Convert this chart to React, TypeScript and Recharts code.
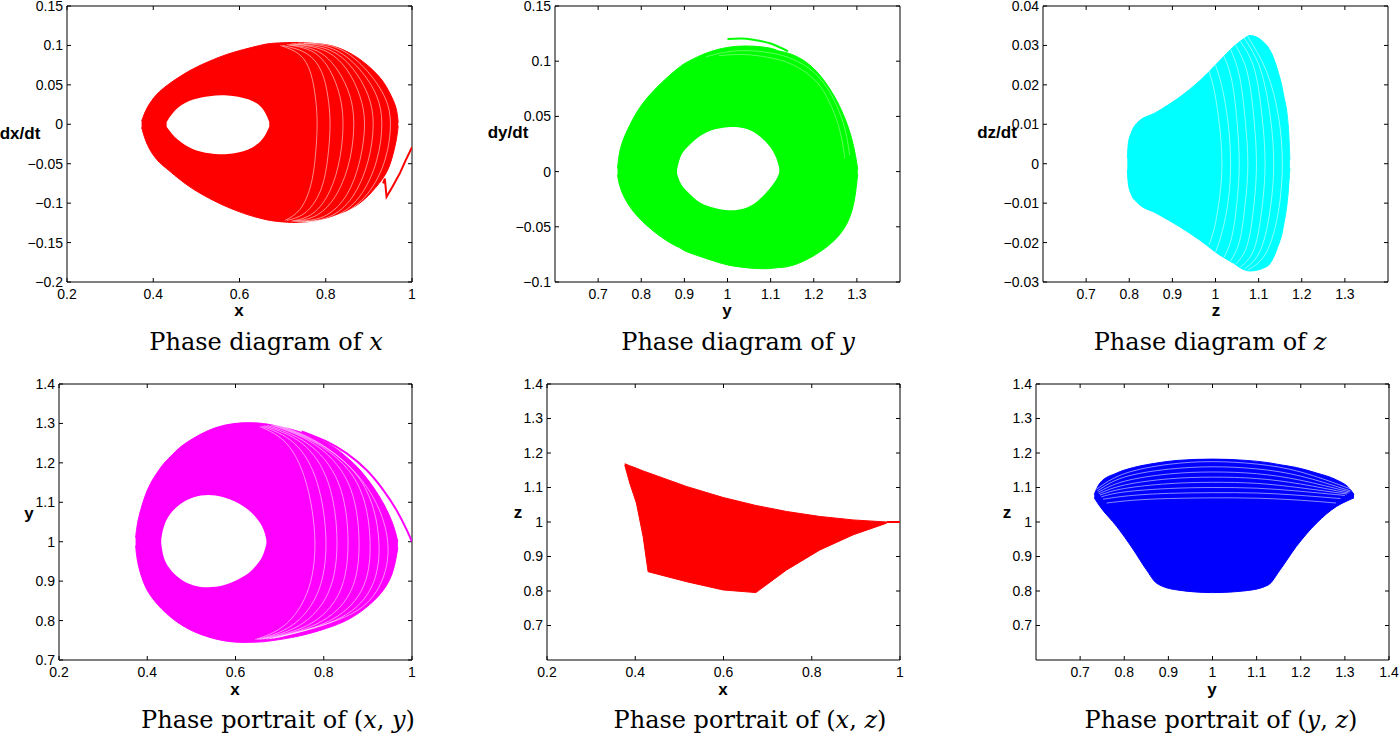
import React from 'react';
import { ComposedChart, Area, Scatter, XAxis, YAxis } from 'recharts';

const FONT = '"Liberation Sans", Arial, Helvetica, sans-serif';
const SERIF = '"DejaVu Serif", "Liberation Serif", serif';

// ---- Phase diagram of x  (x vs dx/dt) ----
const xGrid = [0.373, 0.385, 0.408, 0.431, 0.454, 0.493, 0.53, 0.57, 0.624, 0.655, 0.669, 0.7, 0.74, 0.787, 0.818, 0.864, 0.9, 0.933, 0.949, 0.9645, 0.968];
const xOuter = [[-0.004, 0.004], [-0.027, 0.022], [-0.046, 0.039], [-0.056, 0.049], [-0.067, 0.058], [-0.083, 0.071], [-0.094, 0.08], [-0.105, 0.089], [-0.116, 0.097], [-0.12, 0.101], [-0.122, 0.1025], [-0.124, 0.1035], [-0.125, 0.104], [-0.122, 0.102], [-0.116, 0.1], [-0.107, 0.089], [-0.091, 0.074], [-0.069, 0.056], [-0.054, 0.039], [-0.02, 0.022], [-0.002, 0.002]];
const xInner = [null, null, null, [-0.003, 0.003], [-0.02, 0.022], [-0.033, 0.0325], [-0.037, 0.036], [-0.039, 0.0376], [-0.033, 0.0325], [-0.02, 0.022], [-0.003, 0.003], null, null, null, null, null, null, null, null, null, null];
const xTail = [{ x: 1.0, y: -0.029 }, { x: 0.985, y: -0.046 }, { x: 0.972, y: -0.062 }, { x: 0.955, y: -0.079 }, { x: 0.941, y: -0.092 }, { x: 0.937, y: -0.069 }, { x: 0.933, y: -0.075 }];
const xLoops = [
  [{ x: 0.695, y: 0.1 }, { x: 0.74, y: 0.088 }, { x: 0.765, y: 0.065 }, { x: 0.776, y: 0.034 }, { x: 0.78, y: 0 }, { x: 0.776, y: -0.04 }, { x: 0.765, y: -0.078 }, { x: 0.74, y: -0.108 }, { x: 0.705, y: -0.122 }],
  [{ x: 0.7, y: 0.1 }, { x: 0.755, y: 0.09 }, { x: 0.79, y: 0.067 }, { x: 0.805, y: 0.035 }, { x: 0.81, y: 0 }, { x: 0.805, y: -0.041 }, { x: 0.79, y: -0.081 }, { x: 0.755, y: -0.111 }, { x: 0.71, y: -0.122 }],
  [{ x: 0.71, y: 0.101 }, { x: 0.77, y: 0.092 }, { x: 0.81, y: 0.068 }, { x: 0.833, y: 0.035 }, { x: 0.84, y: 0 }, { x: 0.833, y: -0.042 }, { x: 0.81, y: -0.084 }, { x: 0.77, y: -0.113 }, { x: 0.72, y: -0.123 }],
  [{ x: 0.715, y: 0.101 }, { x: 0.78, y: 0.093 }, { x: 0.827, y: 0.069 }, { x: 0.856, y: 0.036 }, { x: 0.865, y: 0 }, { x: 0.856, y: -0.044 }, { x: 0.827, y: -0.087 }, { x: 0.78, y: -0.115 }, { x: 0.725, y: -0.123 }],
  [{ x: 0.72, y: 0.102 }, { x: 0.795, y: 0.094 }, { x: 0.848, y: 0.07 }, { x: 0.879, y: 0.036 }, { x: 0.89, y: 0 }, { x: 0.879, y: -0.046 }, { x: 0.848, y: -0.09 }, { x: 0.795, y: -0.117 }, { x: 0.73, y: -0.123 }],
  [{ x: 0.725, y: 0.102 }, { x: 0.805, y: 0.095 }, { x: 0.862, y: 0.071 }, { x: 0.898, y: 0.037 }, { x: 0.91, y: 0 }, { x: 0.898, y: -0.047 }, { x: 0.862, y: -0.092 }, { x: 0.805, y: -0.118 }, { x: 0.735, y: -0.124 }],
  [{ x: 0.735, y: 0.103 }, { x: 0.815, y: 0.096 }, { x: 0.878, y: 0.07 }, { x: 0.918, y: 0.036 }, { x: 0.93, y: 0 }, { x: 0.918, y: -0.046 }, { x: 0.878, y: -0.092 }, { x: 0.815, y: -0.118 }, { x: 0.745, y: -0.124 }],
  [{ x: 0.75, y: 0.103 }, { x: 0.83, y: 0.096 }, { x: 0.897, y: 0.067 }, { x: 0.938, y: 0.033 }, { x: 0.95, y: 0 }, { x: 0.938, y: -0.044 }, { x: 0.897, y: -0.088 }, { x: 0.83, y: -0.116 }, { x: 0.755, y: -0.124 }],
];

// ---- Phase diagram of y  (y vs dy/dt) ----
const yGrid = [0.745, 0.75, 0.77, 0.8, 0.85, 0.883, 0.89, 0.9, 0.93, 0.96, 1.0, 1.04, 1.07, 1.1, 1.115, 1.12, 1.15, 1.2, 1.25, 1.28, 1.295, 1.302];
const yOuter = [[-0.003, 0.003], [-0.015, 0.022], [-0.031, 0.04], [-0.045, 0.062], [-0.061, 0.082], [-0.068, 0.093], [-0.069, 0.095], [-0.072, 0.098], [-0.076, 0.104], [-0.08, 0.109], [-0.085, 0.113], [-0.087, 0.114], [-0.088, 0.1135], [-0.088, 0.112], [-0.087, 0.11], [-0.087, 0.109], [-0.086, 0.107], [-0.077, 0.096], [-0.063, 0.069], [-0.047, 0.042], [-0.028, 0.02], [-0.002, 0.002]];
const yInner = [null, null, null, null, null, [-0.002, 0.002], [-0.0104, 0.0137], [-0.0156, 0.0197], [-0.0276, 0.0312], [-0.0321, 0.0378], [-0.0358, 0.0408], [-0.0343, 0.04], [-0.0276, 0.0342], [-0.0147, 0.023], [-0.0065, 0.0116], [-0.001, 0.003], null, null, null, null, null, null];
const yTail = [{ x: 1.0, y: 0.12 }, { x: 1.03, y: 0.1205 }, { x: 1.06, y: 0.1195 }, { x: 1.1, y: 0.116 }, { x: 1.14, y: 0.109 }];
const yLoops = [
  [{ x: 0.95, y: 0.104 }, { x: 1.0, y: 0.1085 }, { x: 1.05, y: 0.1095 }, { x: 1.1, y: 0.1075 }, { x: 1.15, y: 0.102 }, { x: 1.2, y: 0.09 }, { x: 1.24, y: 0.07 }, { x: 1.27, y: 0.042 }, { x: 1.283, y: 0.015 }],
  [{ x: 0.98, y: 0.105 }, { x: 1.04, y: 0.106 }, { x: 1.1, y: 0.103 }, { x: 1.15, y: 0.097 }, { x: 1.2, y: 0.084 }, { x: 1.235, y: 0.064 }, { x: 1.26, y: 0.038 }, { x: 1.272, y: 0.012 }],
];

// ---- Phase diagram of z  (z vs dz/dt) ----
const zGrid = [0.7955, 0.7978, 0.8056, 0.8172, 0.8636, 0.9171, 0.964, 1.0104, 1.0413, 1.0645, 1.08, 1.1187, 1.1419, 1.1573, 1.1689, 1.1725];
const zOuter = [[-0.0015, 0.0015], [-0.005, 0.0051], [-0.008, 0.0081], [-0.0097, 0.0102], [-0.0126, 0.0131], [-0.016, 0.0169], [-0.0194, 0.0211], [-0.0232, 0.0262], [-0.0252, 0.0296], [-0.0268, 0.0316], [-0.0272, 0.0325], [-0.0261, 0.03], [-0.0218, 0.0245], [-0.016, 0.0178], [-0.0067, 0.0093], [-0.001, 0.001]];
const zLoops = [
  [{ x: 0.985, y: 0.0235 }, { x: 0.998, y: 0.018 }, { x: 1.01, y: 0.009 }, { x: 1.015, y: 0 }, { x: 1.01, y: -0.008 }, { x: 0.998, y: -0.016 }, { x: 0.985, y: -0.0205 }],
  [{ x: 1.0, y: 0.025 }, { x: 1.016, y: 0.019 }, { x: 1.03, y: 0.0095 }, { x: 1.035, y: 0 }, { x: 1.03, y: -0.009 }, { x: 1.016, y: -0.017 }, { x: 1.0, y: -0.0225 }],
  [{ x: 1.02, y: 0.0272 }, { x: 1.038, y: 0.021 }, { x: 1.05, y: 0.0105 }, { x: 1.055, y: 0 }, { x: 1.05, y: -0.0095 }, { x: 1.038, y: -0.0185 }, { x: 1.02, y: -0.0237 }],
  [{ x: 1.035, y: 0.029 }, { x: 1.056, y: 0.022 }, { x: 1.069, y: 0.011 }, { x: 1.075, y: 0 }, { x: 1.069, y: -0.01 }, { x: 1.056, y: -0.0195 }, { x: 1.035, y: -0.0247 }],
  [{ x: 1.047, y: 0.03 }, { x: 1.074, y: 0.023 }, { x: 1.089, y: 0.0115 }, { x: 1.095, y: 0 }, { x: 1.089, y: -0.0105 }, { x: 1.074, y: -0.0205 }, { x: 1.047, y: -0.0255 }],
  [{ x: 1.058, y: 0.031 }, { x: 1.09, y: 0.024 }, { x: 1.108, y: 0.012 }, { x: 1.115, y: 0 }, { x: 1.108, y: -0.011 }, { x: 1.09, y: -0.0215 }, { x: 1.058, y: -0.0262 }],
  [{ x: 1.067, y: 0.0318 }, { x: 1.104, y: 0.024 }, { x: 1.127, y: 0.012 }, { x: 1.135, y: 0 }, { x: 1.127, y: -0.0115 }, { x: 1.104, y: -0.022 }, { x: 1.067, y: -0.0267 }],
  [{ x: 1.075, y: 0.0322 }, { x: 1.118, y: 0.0235 }, { x: 1.146, y: 0.012 }, { x: 1.155, y: 0 }, { x: 1.146, y: -0.012 }, { x: 1.118, y: -0.0225 }, { x: 1.075, y: -0.027 }],
];

// ---- Phase portrait of (x, y) ----
const xyGrid = [0.3736, 0.3774, 0.391, 0.406, 0.4317, 0.436, 0.451, 0.475, 0.505, 0.538, 0.572, 0.61, 0.64, 0.663, 0.67, 0.7457, 0.8211, 0.852, 0.8815, 0.9268, 0.957, 0.968];
const xyOuter = [[0.99, 1.01], [0.946, 1.05], [0.895, 1.105], [0.863, 1.149], [0.83, 1.19], [0.826, 1.197], [0.81, 1.214], [0.79, 1.242], [0.771, 1.263], [0.758, 1.283], [0.748, 1.296], [0.744, 1.302], [0.745, 1.302], [0.746, 1.3], [0.747, 1.299], [0.759, 1.282], [0.785, 1.245], [0.8, 1.214], [0.819, 1.186], [0.861, 1.118], [0.912, 1.05], [0.985, 1.0]];
const xyInner = [null, null, null, null, [0.995, 1.005], [0.958, 1.039], [0.929, 1.072], [0.903, 1.098], [0.887, 1.115], [0.883, 1.12], [0.887, 1.115], [0.905, 1.098], [0.928, 1.072], [0.962, 1.039], [0.995, 1.005], null, null, null, null, null, null, null];
const xyTail = [{ x: 1.0, y: 1.0 }, { x: 0.988, y: 1.03 }, { x: 0.965, y: 1.08 }, { x: 0.935, y: 1.131 }, { x: 0.897, y: 1.182 }, { x: 0.852, y: 1.224 }, { x: 0.807, y: 1.254 }, { x: 0.75, y: 1.28 }];
const xyLoops = [
  [{ x: 0.655, y: 1.292 }, { x: 0.715, y: 1.25 }, { x: 0.76, y: 1.15 }, { x: 0.78, y: 1.0 }, { x: 0.762, y: 0.87 }, { x: 0.71, y: 0.787 }, { x: 0.645, y: 0.752 }],
  [{ x: 0.66, y: 1.293 }, { x: 0.733, y: 1.25 }, { x: 0.785, y: 1.15 }, { x: 0.805, y: 1.0 }, { x: 0.786, y: 0.87 }, { x: 0.727, y: 0.787 }, { x: 0.65, y: 0.752 }],
  [{ x: 0.665, y: 1.294 }, { x: 0.75, y: 1.25 }, { x: 0.81, y: 1.15 }, { x: 0.83, y: 1.0 }, { x: 0.81, y: 0.87 }, { x: 0.745, y: 0.788 }, { x: 0.655, y: 0.752 }],
  [{ x: 0.672, y: 1.295 }, { x: 0.762, y: 1.25 }, { x: 0.833, y: 1.15 }, { x: 0.855, y: 1.0 }, { x: 0.835, y: 0.87 }, { x: 0.765, y: 0.789 }, { x: 0.662, y: 0.753 }],
  [{ x: 0.68, y: 1.296 }, { x: 0.775, y: 1.25 }, { x: 0.855, y: 1.15 }, { x: 0.88, y: 1.0 }, { x: 0.86, y: 0.872 }, { x: 0.785, y: 0.792 }, { x: 0.67, y: 0.753 }],
  [{ x: 0.687, y: 1.296 }, { x: 0.785, y: 1.248 }, { x: 0.875, y: 1.15 }, { x: 0.905, y: 1.0 }, { x: 0.885, y: 0.875 }, { x: 0.805, y: 0.795 }, { x: 0.678, y: 0.754 }],
  [{ x: 0.693, y: 1.296 }, { x: 0.793, y: 1.246 }, { x: 0.888, y: 1.148 }, { x: 0.925, y: 1.0 }, { x: 0.905, y: 0.878 }, { x: 0.825, y: 0.8 }, { x: 0.685, y: 0.755 }],
  [{ x: 0.7, y: 1.295 }, { x: 0.8, y: 1.243 }, { x: 0.898, y: 1.138 }, { x: 0.945, y: 1.0 }, { x: 0.925, y: 0.885 }, { x: 0.85, y: 0.81 }, { x: 0.695, y: 0.757 }],
];

// ---- Phase portrait of (x, z) ----
const xzGrid = [0.3762, 0.3875, 0.4026, 0.4178, 0.4291, 0.5161, 0.5992, 0.6733, 0.7429, 0.8185, 0.8941, 0.9697];
const xzOuter = [[1.165, 1.169], [1.113, 1.163], [1.055, 1.156], [0.958, 1.148], [0.856, 1.143], [0.827, 1.103], [0.803, 1.071], [0.7954, 1.048], [0.861, 1.0305], [0.919, 1.016], [0.963, 1.006], [0.9966, 1.0]];
const xzTail = [{ x: 0.9697, y: 1.0 }, { x: 1.0, y: 1.0 }];

// ---- Phase portrait of (y, z) ----
const yzGrid = [0.732, 0.745, 0.783, 0.821, 0.85, 0.8735, 0.92, 1.0, 1.077, 1.1265, 1.153, 1.19, 1.236, 1.281, 1.31, 1.3207];
const yzOuter = [[1.07, 1.08], [1.045, 1.113], [0.987, 1.142], [0.919, 1.158], [0.862, 1.166], [0.8225, 1.171], [0.803, 1.1785], [0.7954, 1.1823], [0.801, 1.1785], [0.8177, 1.172], [0.861, 1.166], [0.929, 1.158], [0.997, 1.142], [1.045, 1.122], [1.064, 1.098], [1.07, 1.08]];
const yzLoops = [
  [{ x: 0.737, y: 1.095 }, { x: 0.8, y: 1.14 }, { x: 0.9, y: 1.167 }, { x: 1.0, y: 1.175 }, { x: 1.1, y: 1.168 }, { x: 1.2, y: 1.145 }, { x: 1.315, y: 1.095 }],
  [{ x: 0.739, y: 1.09 }, { x: 0.8, y: 1.13 }, { x: 0.9, y: 1.153 }, { x: 1.0, y: 1.16 }, { x: 1.1, y: 1.154 }, { x: 1.2, y: 1.133 }, { x: 1.313, y: 1.09 }],
  [{ x: 0.741, y: 1.086 }, { x: 0.8, y: 1.118 }, { x: 0.9, y: 1.139 }, { x: 1.0, y: 1.145 }, { x: 1.1, y: 1.14 }, { x: 1.2, y: 1.121 }, { x: 1.311, y: 1.087 }],
  [{ x: 0.743, y: 1.082 }, { x: 0.8, y: 1.107 }, { x: 0.9, y: 1.125 }, { x: 1.0, y: 1.13 }, { x: 1.1, y: 1.126 }, { x: 1.2, y: 1.11 }, { x: 1.308, y: 1.084 }],
  [{ x: 0.745, y: 1.078 }, { x: 0.8, y: 1.097 }, { x: 0.9, y: 1.111 }, { x: 1.0, y: 1.115 }, { x: 1.1, y: 1.112 }, { x: 1.2, y: 1.099 }, { x: 1.305, y: 1.081 }],
  [{ x: 0.748, y: 1.073 }, { x: 0.8, y: 1.087 }, { x: 0.9, y: 1.097 }, { x: 1.0, y: 1.1 }, { x: 1.1, y: 1.098 }, { x: 1.2, y: 1.089 }, { x: 1.3, y: 1.077 }],
  [{ x: 0.752, y: 1.066 }, { x: 0.81, y: 1.076 }, { x: 0.9, y: 1.083 }, { x: 1.0, y: 1.085 }, { x: 1.1, y: 1.084 }, { x: 1.2, y: 1.077 }, { x: 1.29, y: 1.068 }],
  [{ x: 0.76, y: 1.055 }, { x: 0.82, y: 1.063 }, { x: 0.9, y: 1.068 }, { x: 1.0, y: 1.07 }, { x: 1.1, y: 1.069 }, { x: 1.2, y: 1.063 }, { x: 1.28, y: 1.055 }],
];

// tick labels
const ticks02to1 = [0.2, 0.4, 0.6, 0.8, 1];
const ticks07to13 = [0.7, 0.8, 0.9, 1, 1.1, 1.2, 1.3];
const ticks07to14 = [0.7, 0.8, 0.9, 1, 1.1, 1.2, 1.3, 1.4];
const ticksDx = [-0.2, -0.15, -0.1, -0.05, 0, 0.05, 0.1, 0.15];
const ticksDy = [-0.1, -0.05, 0, 0.05, 0.1, 0.15];
const ticksDz = [-0.03, -0.02, -0.01, 0, 0.01, 0.02, 0.03, 0.04];

const fmt = (v: number) => String(v).replace('-', '\u2212');
const blank = () => '';

const rowsOf = (grid: number[], outer: any[], inner?: any[]) =>
  grid.map((x, i) => ({ x, outer: outer[i], inner: inner ? inner[i] : null }));

const Nothing = () => <g />;

function PhasePanel({ left, top, width, height, xDomain, xTicks, yDomain, yTicks, color, rows, tail, tailCurve, loops, loopOpacity = 0.9, curve, hasHole }: any) {
  const tickStyle = { fontSize: 14, fill: '#000', fontFamily: FONT };
  return (
    <div style={{ position: 'absolute', left: left - 60, top: top - 10 }}>
      <ComposedChart width={width + 76} height={height + 40} data={rows} margin={{ top: 9, right: 15, bottom: 0, left: 0 }}>
        <XAxis dataKey="x" type="number" domain={xDomain} ticks={xTicks} allowDataOverflow interval={0}
          tickSize={-4} tickMargin={11} height={30} stroke="#000" tick={tickStyle} tickFormatter={fmt} />
        <XAxis xAxisId="top" orientation="top" dataKey="x" type="number" domain={xDomain} ticks={xTicks}
          allowDataOverflow interval={0} tickSize={-4} height={1} stroke="#000" tickFormatter={blank} />
        <YAxis dataKey="y" type="number" domain={yDomain} ticks={yTicks} allowDataOverflow interval={0}
          tickSize={-4} tickMargin={8} width={60} stroke="#000" tick={tickStyle} tickFormatter={fmt} />
        <YAxis yAxisId="right" orientation="right" type="number" domain={yDomain} ticks={yTicks}
          allowDataOverflow interval={0} tickSize={-4} width={1} stroke="#000" tickFormatter={blank} />
        <Area dataKey="outer" type={curve} stroke={color} strokeWidth={1} fill={color} fillOpacity={1}
          dot={false} activeDot={false} isAnimationActive={false} />
        {hasHole && (
          <Area dataKey="inner" type={curve} stroke="none" fill="#fff" fillOpacity={1}
            dot={false} activeDot={false} isAnimationActive={false} />
        )}
        {(loops || []).map((loop: any[], i: number) => (
          <Scatter key={i} data={loop} dataKey="y" line={{ stroke: '#fff', strokeWidth: 0.6, strokeOpacity: loopOpacity }}
            lineJointType="natural" shape={Nothing} isAnimationActive={false} />
        ))}
        {tail && (
          <Scatter data={tail} dataKey="y" line={{ stroke: color, strokeWidth: 2 }} lineJointType={tailCurve}
            shape={Nothing} isAnimationActive={false} />
        )}
      </ComposedChart>
    </div>
  );
}

const AxisText = ({ x, y, children }: any) => (
  <div style={{ position: 'absolute', left: x, top: y, transform: 'translate(-50%, -50%)', fontFamily: FONT,
    fontWeight: 'bold', fontSize: 17, color: '#000', whiteSpace: 'nowrap' }}>{children}</div>
);

const Caption = ({ x, y, children }: any) => (
  <div style={{ position: 'absolute', left: x, top: y, transform: 'translate(-50%, -50%)', fontFamily: SERIF,
    fontSize: 24, color: '#000', whiteSpace: 'nowrap' }}>{children}</div>
);

export default function App() {
  return (
    <div style={{ position: 'absolute', left: 0, top: 0, width: 1399, height: 736, background: '#fff', overflow: 'hidden' }}>
      <PhasePanel left={67} top={6} width={345} height={276} xDomain={[0.2, 1]} xTicks={ticks02to1}
        yDomain={[-0.2, 0.15]} yTicks={ticksDx} color="#ff0000" rows={rowsOf(xGrid, xOuter, xInner)}
        tail={xTail} tailCurve="linear" loops={xLoops} curve="basis" hasHole />
      <PhasePanel left={555} top={6} width={345} height={276} xDomain={[0.6, 1.4]} xTicks={ticks07to13}
        yDomain={[-0.1, 0.15]} yTicks={ticksDy} color="#00ff00" rows={rowsOf(yGrid, yOuter, yInner)}
        tail={yTail} tailCurve="natural" loops={yLoops} loopOpacity={0.6} curve="basis" hasHole />
      <PhasePanel left={1043} top={6} width={345} height={276} xDomain={[0.6, 1.4]} xTicks={ticks07to13}
        yDomain={[-0.03, 0.04]} yTicks={ticksDz} color="#00ffff" rows={rowsOf(zGrid, zOuter)}
        loops={zLoops} curve="monotone" />
      <PhasePanel left={59} top={384} width={353} height={276} xDomain={[0.2, 1]} xTicks={ticks02to1}
        yDomain={[0.7, 1.4]} yTicks={ticks07to14} color="#ff00ff" rows={rowsOf(xyGrid, xyOuter, xyInner)}
        tail={xyTail} tailCurve="natural" loops={xyLoops} curve="basis" hasHole />
      <PhasePanel left={547} top={384} width={353} height={276} xDomain={[0.2, 1]} xTicks={ticks02to1}
        yDomain={[0.6, 1.4]} yTicks={ticks07to14} color="#ff0000" rows={rowsOf(xzGrid, xzOuter)}
        tail={xzTail} tailCurve="linear" curve="linear" />
      <PhasePanel left={1036} top={384} width={353} height={276} xDomain={[0.6, 1.4]} xTicks={ticks07to14}
        yDomain={[0.6, 1.4]} yTicks={ticks07to14} color="#0000ff" rows={rowsOf(yzGrid, yzOuter)}
        loops={yzLoops} curve="monotone" />

      <AxisText x={239} y={311}>x</AxisText>
      <AxisText x={20} y={134}>dx/dt</AxisText>
      <AxisText x={727} y={311}>y</AxisText>
      <AxisText x={508} y={133}>dy/dt</AxisText>
      <AxisText x={1216} y={311}>z</AxisText>
      <AxisText x={997} y={133}>dz/dt</AxisText>
      <AxisText x={235} y={690}>x</AxisText>
      <AxisText x={29} y={514}>y</AxisText>
      <AxisText x={723} y={690}>x</AxisText>
      <AxisText x={518} y={513}>z</AxisText>
      <AxisText x={1212} y={690}>y</AxisText>
      <AxisText x={1007} y={513}>z</AxisText>

      <Caption x={266} y={342}>Phase diagram of <i>x</i></Caption>
      <Caption x={738} y={342}>Phase diagram of <i>y</i></Caption>
      <Caption x={1210} y={342}>Phase diagram of <i>z</i></Caption>
      <Caption x={278} y={720}>Phase portrait of (<i>x</i>, <i>y</i>)</Caption>
      <Caption x={750} y={720}>Phase portrait of (<i>x</i>, <i>z</i>)</Caption>
      <Caption x={1221} y={720}>Phase portrait of (<i>y</i>, <i>z</i>)</Caption>
    </div>
  );
}
